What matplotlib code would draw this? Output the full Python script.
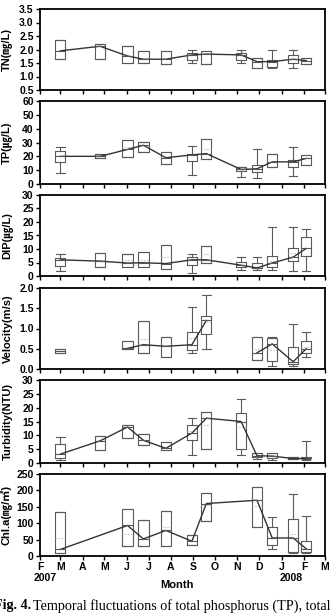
"""Monthly box plots of water-quality variables, 2007-2008."""

import numpy as np
import matplotlib

matplotlib.use("Agg")
import matplotlib.pyplot as plt
import matplotlib.dates as mdates

nan = np.nan

SAMPLE_DATES = np.array(
    ["2007-03-01", "2007-04-25", "2007-06-02", "2007-06-24", "2007-07-25", "2007-08-30",
     "2007-09-19", "2007-11-06", "2007-11-28", "2007-12-19", "2008-01-17", "2008-02-04"],
    dtype="datetime64[D]",
)
MONTH_TICKS = np.arange("2007-02", "2008-04", dtype="datetime64[M]").astype("datetime64[D]")
MONTH_LABELS = ["F", "M", "A", "M", "J", "J", "A", "S", "O", "N", "D", "J", "F", "M"]

# TN (mg/L)
TN_LO = [1.64, 1.64, 1.49, 1.49, 1.45, 1.51, 1.45, 1.51, 1.33, 1.30, 1.33, 1.45]
TN_Q1 = [1.64, 1.64, 1.49, 1.49, 1.45, 1.61, 1.45, 1.61, 1.33, 1.36, 1.51, 1.45]
TN_MED = [1.95, 2.12, 1.76, 1.64, 1.64, 1.80, 1.83, 1.80, 1.55, 1.55, 1.64, 1.59]
TN_Q3 = [2.35, 2.19, 2.13, 1.96, 1.96, 1.88, 1.96, 1.86, 1.67, 1.61, 1.80, 1.67]
TN_HI = [2.35, 2.19, 2.13, 1.96, 1.96, 2.00, 1.96, 1.98, 1.67, 1.98, 1.98, 1.67]
TN_MEAN = [nan] * 12

# TP (ug/L)
TP_LO = [7.7, 18.5, 19.7, 23.3, 14.4, 6.5, 17.8, 5.3, 4.1, 12.5, 5.8, 13.7]
TP_Q1 = [16.0, 18.5, 19.7, 23.3, 14.4, 16.6, 17.8, 9.6, 8.9, 12.5, 12.0, 13.7]
TP_MED = [20.0, 20.0, 25.0, 28.0, 19.0, 21.0, 22.0, 10.5, 11.0, 16.0, 16.0, 18.5]
TP_Q3 = [23.8, 21.6, 32.0, 30.5, 23.3, 22.0, 32.2, 12.5, 13.7, 21.4, 17.3, 20.9]
TP_HI = [26.4, 21.6, 32.0, 30.5, 23.3, 27.4, 32.2, 12.5, 25.0, 21.4, 27.0, 20.9]
TP_MEAN = [nan, nan, 27.0, nan, nan, nan, 25.0, nan, nan, nan, nan, nan]

# DIP (ug/L)
DIP_LO = [2.0, 3.2, 3.2, 3.2, 2.5, 1.0, 4.9, 2.2, 2.2, 2.2, 2.0, 2.0]
DIP_Q1 = [3.7, 3.2, 3.2, 3.2, 2.5, 4.1, 4.9, 3.2, 2.8, 3.5, 5.6, 7.4]
DIP_MED = [6.0, 5.5, 4.8, 4.9, 4.6, 6.0, 6.0, 4.0, 3.0, 4.8, 7.0, 10.2]
DIP_Q3 = [6.5, 8.4, 8.1, 8.8, 11.5, 7.2, 11.1, 5.3, 4.9, 7.4, 10.2, 14.3]
DIP_HI = [8.1, 8.4, 8.1, 8.8, 11.5, 8.1, 11.1, 7.2, 6.9, 18.3, 18.3, 17.3]
DIP_MEAN = [nan, 5.8, 6.0, 6.1, 7.2, nan, 8.1, nan, nan, 5.5, 8.5, nan]

# Velocity (m/s)
VEL_LO = [0.40, nan, 0.50, 0.40, 0.29, 0.40, 0.50, nan, 0.22, 0.08, 0.07, 0.29]
VEL_Q1 = [0.40, nan, 0.50, 0.40, 0.29, 0.47, 0.87, nan, 0.22, 0.20, 0.12, 0.40]
VEL_MED = [0.45, nan, 0.51, 0.60, 0.56, 0.60, 1.20, nan, 0.40, 0.62, 0.18, 0.50]
VEL_Q3 = [0.50, nan, 0.70, 1.19, 0.78, 0.91, 1.31, nan, 0.78, 0.76, 0.54, 0.70]
VEL_HI = [0.50, nan, 0.70, 1.19, 0.78, 1.52, 1.83, nan, 0.78, 0.80, 1.12, 0.91]
VEL_MEAN = [nan, nan, nan, 0.74, nan, 0.76, 1.15, nan, 0.50, 0.48, nan, 0.55]

# Turbidity (NTU)
TUR_LO = [1.0, 4.6, 9.2, 6.4, 4.6, 2.8, 5.2, 2.8, 1.3, 1.0, 1.6, 1.0]
TUR_Q1 = [1.9, 4.6, 9.2, 6.4, 4.6, 8.2, 5.2, 5.2, 2.2, 1.9, 1.6, 1.7]
TUR_MED = [3.2, 8.0, 13.0, 8.2, 5.3, 10.8, 16.2, 15.0, 2.6, 2.5, 1.6, 1.6]
TUR_Q3 = [6.8, 9.7, 13.7, 10.4, 7.6, 13.7, 18.5, 17.9, 3.6, 3.6, 2.2, 2.3]
TUR_HI = [9.4, 9.7, 13.7, 10.4, 7.6, 16.1, 18.5, 23.3, 3.6, 3.6, 2.2, 8.0]
TUR_MEAN = [nan, nan, nan, nan, nan, 11.5, 13.7, 13.0, nan, nan, nan, nan]

# Chl.a (mg/m3)
CHL_LO = [10, nan, 30, 30, 30, 33, 107, nan, 87, 20, 8, 8]
CHL_Q1 = [10, nan, 30, 30, 30, 33, 107, nan, 87, 35, 12, 12]
CHL_MED = [20, nan, 93, 52, 78, 45, 160, nan, 170, 55, 55, 22]
CHL_Q3 = [135, nan, 142, 109, 138, 63, 191, nan, 209, 89, 114, 46]
CHL_HI = [135, nan, 142, 109, 138, 63, 191, nan, 209, 119, 188, 121]
CHL_MEAN = [55, nan, 68, nan, 88, nan, 155, nan, 152, nan, 68, nan]

# label, (lo, q1, med, q3, hi, mean), ylim, ytick step, tick format, break line at gaps
PANELS = [
    ("TN(㎎/L)", (TN_LO, TN_Q1, TN_MED, TN_Q3, TN_HI, TN_MEAN), (0.5, 3.5), 0.5, "{:.1f}", False),
    ("TP(㎍/L)", (TP_LO, TP_Q1, TP_MED, TP_Q3, TP_HI, TP_MEAN), (0, 60), 10, "{:.0f}", False),
    ("DIP(㎍/L)", (DIP_LO, DIP_Q1, DIP_MED, DIP_Q3, DIP_HI, DIP_MEAN), (0, 30), 5, "{:.0f}", False),
    ("Velocity(m/s)", (VEL_LO, VEL_Q1, VEL_MED, VEL_Q3, VEL_HI, VEL_MEAN), (0, 2.0), 0.5, "{:.1f}", True),
    ("Turbidity(NTU)", (TUR_LO, TUR_Q1, TUR_MED, TUR_Q3, TUR_HI, TUR_MEAN), (0, 30), 5, "{:.0f}", False),
    ("Chl.a(㎎/㎥)", (CHL_LO, CHL_Q1, CHL_MED, CHL_Q3, CHL_HI, CHL_MEAN), (0, 250), 50, "{:.0f}", False),
]

# panel extents in pixels from the top of the figure
PANEL_PX = [(9, 90), (101, 184), (195, 276), (288, 369), (380, 463), (474, 556)]

FIG_W, FIG_H = 332, 613
LEFT_PX, RIGHT_PX = 40, 325
BOX_DAYS = 14
BOX_COLOR = "#5a5a5a"
LINE_COLOR = "#333333"

plt.rcParams["font.family"] = ["Liberation Sans", "Noto Sans CJK KR", "DejaVu Sans"]
plt.rcParams["font.weight"] = "bold"

fig = plt.figure(figsize=(FIG_W / 100, FIG_H / 100), dpi=100)
positions = mdates.date2num(SAMPLE_DATES)
box_style = dict(color=BOX_COLOR, linewidth=0.8)

for index, (label, series, ylim, step, fmt, break_gaps) in enumerate(PANELS):
    top_px, bottom_px = PANEL_PX[index]
    ax = fig.add_axes([
        LEFT_PX / FIG_W,
        1 - bottom_px / FIG_H,
        (RIGHT_PX - LEFT_PX) / FIG_W,
        (bottom_px - top_px) / FIG_H,
    ])
    lo, q1, med, q3, hi, mean = (np.asarray(values, dtype=float) for values in series)
    present = ~np.isnan(med)

    stats = [
        {"whislo": lo[i], "q1": q1[i], "med": med[i], "q3": q3[i], "whishi": hi[i], "fliers": []}
        for i in np.flatnonzero(present)
    ]
    ax.bxp(
        stats,
        positions=positions[present],
        widths=BOX_DAYS,
        capwidths=BOX_DAYS * 0.85,
        showfliers=False,
        manage_ticks=False,
        boxprops=box_style,
        whiskerprops=box_style,
        capprops=box_style,
        medianprops=dict(color="#555555", linewidth=0.8),
    )

    has_mean = ~np.isnan(mean)
    ax.hlines(
        mean[has_mean],
        positions[has_mean] - BOX_DAYS / 2,
        positions[has_mean] + BOX_DAYS / 2,
        colors="#aaaaaa",
        linestyles=":",
        linewidth=0.8,
    )

    if break_gaps:
        ax.plot(SAMPLE_DATES, med, color=LINE_COLOR, linewidth=1.0)
    else:
        ax.plot(SAMPLE_DATES[present], med[present], color=LINE_COLOR, linewidth=1.0)

    ax.set_xlim(MONTH_TICKS[0], MONTH_TICKS[-1])
    ax.set_ylim(*ylim)
    yticks = np.arange(ylim[0], ylim[1] + step / 2, step)
    ax.set_yticks(yticks)
    ax.set_yticklabels([fmt.format(v) for v in yticks])
    ax.set_xticks(MONTH_TICKS)
    if index == len(PANELS) - 1:
        ax.set_xticklabels(MONTH_LABELS)
    else:
        ax.set_xticklabels([])

    ax.tick_params(direction="out", length=3, width=1, labelsize=7.5, pad=1.5)
    for spine in ax.spines.values():
        spine.set_linewidth(1.3)
    ax.set_ylabel(label, fontsize=8, fontweight="bold")
    ax.yaxis.set_label_coords(-0.095, 0.5)

bottom_ax = fig.axes[-1]
for year_date, year in [("2007-02-08", "2007"), ("2008-01-14", "2008")]:
    bottom_ax.annotate(
        year,
        xy=(np.datetime64(year_date), 0),
        xycoords=bottom_ax.get_xaxis_transform(),
        xytext=(0, -16),
        textcoords="offset points",
        ha="center",
        va="center",
        fontsize=7.5,
        fontweight="bold",
    )
bottom_ax.set_xlabel("Month", fontsize=8, fontweight="bold")
bottom_ax.xaxis.set_label_coords(0.48, -0.29)

# caption strip cut off at both edges, as in the source page
caption_y = 1 - 606 / FIG_H
fig.text(-6 / FIG_W, caption_y, "Fig. 4.", family="Liberation Serif", fontweight="bold",
         fontsize=10.2, va="center", ha="left")
fig.text(33 / FIG_W, caption_y, "Temporal fluctuations of total phosphorus (TP), total",
         family="Liberation Serif", fontweight="normal", fontsize=10.2, va="center", ha="left")

fig.savefig("out.png", dpi=100)
plt.close(fig)
